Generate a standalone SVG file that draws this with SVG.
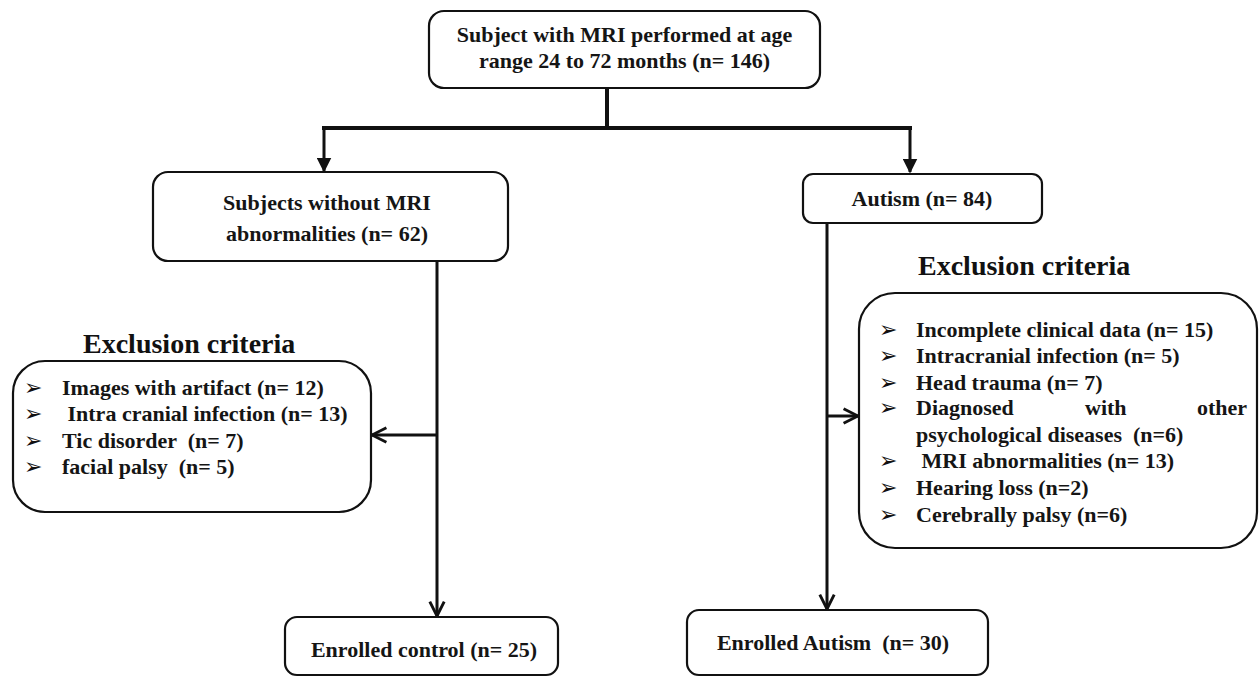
<svg xmlns="http://www.w3.org/2000/svg" width="1259" height="677" viewBox="0 0 1259 677">
<style>
.box{fill:#fff;stroke:#111;stroke-width:2.2}
.t{font-family:"Liberation Serif","Times New Roman",serif;font-weight:bold;font-size:22px;fill:#151515}
.h{font-family:"Liberation Serif","Times New Roman",serif;font-weight:bold;font-size:28px;fill:#111}
.b{font-family:"DejaVu Sans",sans-serif;font-size:22px;fill:#111}
.ln{fill:none;stroke:#111;stroke-width:3}
</style>
<defs>
<marker id="tri" viewBox="0 0 10 10" refX="9" refY="5" markerWidth="5" markerHeight="5" markerUnits="strokeWidth" orient="auto">
<path d="M0,0 L10,5 L0,10 z" fill="#111"/>
</marker>
<marker id="chev" viewBox="0 0 10 10" refX="9" refY="5" markerWidth="6" markerHeight="6" markerUnits="strokeWidth" orient="auto">
<path d="M1,1 L9,5 L1,9" fill="none" stroke="#111" stroke-width="1.6"/>
</marker>
</defs>
<rect width="1259" height="677" fill="#fff"/>
<g id="connectors">
<line class="ln" x1="607" y1="88" x2="607" y2="128" style="stroke-width:4"/>
<line class="ln" x1="322" y1="128" x2="912" y2="128" style="stroke-width:4"/>
<polyline class="ln" points="324,127 324,171" marker-end="url(#tri)"/>
<polyline class="ln" points="910,127 910,172" marker-end="url(#tri)"/>
<line class="ln" x1="437" y1="261" x2="437" y2="616" marker-end="url(#chev)"/>
<line class="ln" x1="437" y1="435" x2="372" y2="435" marker-end="url(#chev)"/>
<line class="ln" x1="827" y1="223" x2="827" y2="609" marker-end="url(#chev)"/>
<line class="ln" x1="827" y1="416" x2="858" y2="416" marker-end="url(#chev)"/>
</g>
<g id="top">
<rect class="box" x="429" y="11" width="391" height="77" rx="15"/>
<text class="t" x="624.5" y="42" text-anchor="middle">Subject with MRI performed at age</text>
<text class="t" x="624.5" y="68" text-anchor="middle">range 24 to 72 months (n= 146)</text>
</g>
<g id="no-abn">
<rect class="box" x="153" y="172" width="355" height="89" rx="15"/>
<text class="t" x="327" y="210" text-anchor="middle">Subjects without MRI</text>
<text class="t" x="327" y="241" text-anchor="middle">abnormalities (n= 62)</text>
</g>
<g id="autism">
<rect class="box" x="803" y="174" width="239" height="49" rx="10"/>
<text class="t" x="922" y="206" text-anchor="middle">Autism (n= 84)</text>
</g>
<g id="excl-left">
<text class="h" x="83" y="353">Exclusion criteria</text>
<rect class="box" x="13" y="361" width="358" height="151" rx="32"/>
<text class="b" x="24" y="395">➢</text>
<text class="b" x="24" y="421">➢</text>
<text class="b" x="24" y="448">➢</text>
<text class="b" x="24" y="474">➢</text>
<text class="t" x="62" y="395">Images with artifact (n= 12)</text>
<text class="t" x="62" y="421" xml:space="preserve"> Intra cranial infection (n= 13)</text>
<text class="t" x="62" y="448" xml:space="preserve">Tic disorder  (n= 7)</text>
<text class="t" x="62" y="474" xml:space="preserve">facial palsy  (n= 5)</text>
</g>
<g id="excl-right">
<text class="h" x="918" y="275">Exclusion criteria</text>
<rect class="box" x="859" y="293" width="398" height="255" rx="36"/>
<text class="b" x="879" y="337">➢</text>
<text class="b" x="879" y="363">➢</text>
<text class="b" x="879" y="390">➢</text>
<text class="b" x="879" y="415">➢</text>
<text class="b" x="879" y="468">➢</text>
<text class="b" x="879" y="495">➢</text>
<text class="b" x="879" y="522">➢</text>
<text class="t" x="916" y="337">Incomplete clinical data (n= 15)</text>
<text class="t" x="916" y="363">Intracranial infection (n= 5)</text>
<text class="t" x="916" y="390">Head trauma (n= 7)</text>
<text class="t" y="415"><tspan x="916">Diagnosed</tspan><tspan x="1085">with</tspan><tspan x="1197">other</tspan></text>
<text class="t" x="916" y="442" xml:space="preserve">psychological diseases  (n=6)</text>
<text class="t" x="916" y="468" xml:space="preserve"> MRI abnormalities (n= 13)</text>
<text class="t" x="916" y="495">Hearing loss (n=2)</text>
<text class="t" x="916" y="522">Cerebrally palsy (n=6)</text>
</g>
<g id="enrolled-control">
<rect class="box" x="285" y="617" width="273" height="58" rx="12"/>
<text class="t" x="424" y="657" text-anchor="middle">Enrolled control (n= 25)</text>
</g>
<g id="enrolled-autism">
<rect class="box" x="687" y="610" width="301" height="65" rx="12"/>
<text class="t" x="833" y="650" text-anchor="middle" xml:space="preserve">Enrolled Autism  (n= 30)</text>
</g>
</svg>
